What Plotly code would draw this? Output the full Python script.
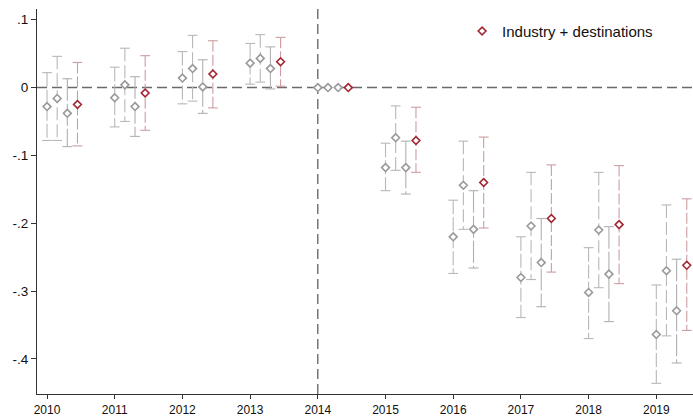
import plotly.graph_objects as go

# Event-study estimates by year, four specifications, with 95% confidence bounds
years = [2010, 2011, 2012, 2013, 2014, 2015, 2016, 2017, 2018, 2019]

spec1_est = [-0.028, -0.015, 0.014, 0.036, 0.0, -0.118, -0.220, -0.280, -0.302, -0.364]
spec1_lo = [-0.078, -0.058, -0.024, 0.005, None, -0.152, -0.274, -0.339, -0.370, -0.436]
spec1_hi = [0.022, 0.030, 0.053, 0.065, None, -0.082, -0.166, -0.220, -0.236, -0.291]

spec2_est = [-0.016, 0.004, 0.028, 0.043, 0.0, -0.074, -0.144, -0.204, -0.210, -0.270]
spec2_lo = [-0.078, -0.050, -0.020, 0.008, None, -0.122, -0.209, -0.283, -0.295, -0.366]
spec2_hi = [0.046, 0.058, 0.077, 0.078, None, -0.027, -0.079, -0.125, -0.125, -0.173]

spec3_est = [-0.038, -0.028, 0.001, 0.028, 0.0, -0.118, -0.209, -0.258, -0.275, -0.329]
spec3_lo = [-0.087, -0.072, -0.038, -0.002, None, -0.157, -0.266, -0.323, -0.345, -0.406]
spec3_hi = [0.013, 0.016, 0.041, 0.060, None, -0.079, -0.152, -0.193, -0.205, -0.253]

ind_dest_est = [-0.025, -0.008, 0.020, 0.038, 0.0, -0.078, -0.140, -0.193, -0.202, -0.262]
ind_dest_lo = [-0.086, -0.063, -0.030, 0.002, None, -0.125, -0.207, -0.272, -0.289, -0.358]
ind_dest_hi = [0.037, 0.047, 0.069, 0.074, None, -0.029, -0.073, -0.114, -0.115, -0.164]

y_ticks = [0.1, 0.0, -0.1, -0.2, -0.3, -0.4]
y_tick_labels = [".1", "0", "-.1", "-.2", "-.3", "-.4"]

series = [
    dict(name="Spec 1", est=spec1_est, lo=spec1_lo, hi=spec1_hi, shift=0.00,
         mcolor="#9a9a9a", ccolor="#b8b8b8", dash="14px,3px", legend=False),
    dict(name="Spec 2", est=spec2_est, lo=spec2_lo, hi=spec2_hi, shift=0.15,
         mcolor="#9a9a9a", ccolor="#b8b8b8", dash="13px,4px", legend=False),
    dict(name="Spec 3", est=spec3_est, lo=spec3_lo, hi=spec3_hi, shift=0.30,
         mcolor="#9a9a9a", ccolor="#b0b0b0", dash="22px,3px", legend=False),
    dict(name="Industry + destinations", est=ind_dest_est, lo=ind_dest_lo, hi=ind_dest_hi,
         shift=0.45, mcolor="#a32632", ccolor="#cc9da1", dash="11px,3px", legend=True),
]

fig = go.Figure()

# Reference lines: zero effect and the 2014 base year
fig.add_hline(y=0, line=dict(color="#6a6a6a", width=1.5, dash="10px,5px"), layer="below")
fig.add_vline(x=2014, line=dict(color="#555555", width=1.2, dash="10px,5px"), layer="below")

for s in series:
    xs = [y + s["shift"] for y in years]
    seg_x, seg_y, cap_x, cap_y = [], [], [], []
    for x, lo, hi in zip(xs, s["lo"], s["hi"]):
        if lo is None:
            continue
        seg_x += [x, x, None]
        seg_y += [hi, lo, None]
        cap_x += [x, x]
        cap_y += [hi, lo]
    # confidence interval spikes
    fig.add_trace(go.Scatter(
        x=seg_x, y=seg_y, mode="lines", showlegend=False, hoverinfo="skip",
        line=dict(color=s["ccolor"], width=1.1, dash=s["dash"]),
    ))
    # end caps
    fig.add_trace(go.Scatter(
        x=cap_x, y=cap_y, mode="markers", showlegend=False, hoverinfo="skip",
        marker=dict(symbol="line-ew", size=7, line=dict(color=s["ccolor"], width=1.1)),
    ))

for s in series:
    xs = [y + s["shift"] for y in years]
    fig.add_trace(go.Scatter(
        x=xs, y=s["est"], mode="markers", name=s["name"], showlegend=s["legend"],
        marker=dict(symbol="diamond", size=6, color="white",
                    line=dict(color=s["mcolor"], width=1.6)),
    ))

fig.update_layout(
    width=693, height=416,
    margin=dict(l=37, r=0, t=9, b=22),
    paper_bgcolor="white", plot_bgcolor="white",
    font=dict(family="Liberation Sans, Arial, sans-serif", size=13, color="#111111"),
    legend=dict(x=0.648, y=0.985, xanchor="left", yanchor="top",
                bgcolor="rgba(0,0,0,0)", font=dict(size=15), itemwidth=30),
    xaxis=dict(
        range=[2009.852, 2019.542], tickmode="array", tickvals=years,
        ticktext=[str(y) for y in years], ticks="outside", ticklen=4,
        tickcolor="#333333", showline=True, linecolor="#333333", linewidth=1.2,
        showgrid=False, zeroline=False, tickfont=dict(size=12), automargin=False,
    ),
    yaxis=dict(
        range=[-0.4517, 0.1158], tickmode="array", tickvals=y_ticks,
        ticktext=y_tick_labels, ticks="outside", ticklen=5,
        tickcolor="#333333", showline=True, linecolor="#333333", linewidth=1.2,
        showgrid=False, zeroline=False, tickfont=dict(size=13.5), automargin=False,
    ),
)

fig.write_html("out.html")
